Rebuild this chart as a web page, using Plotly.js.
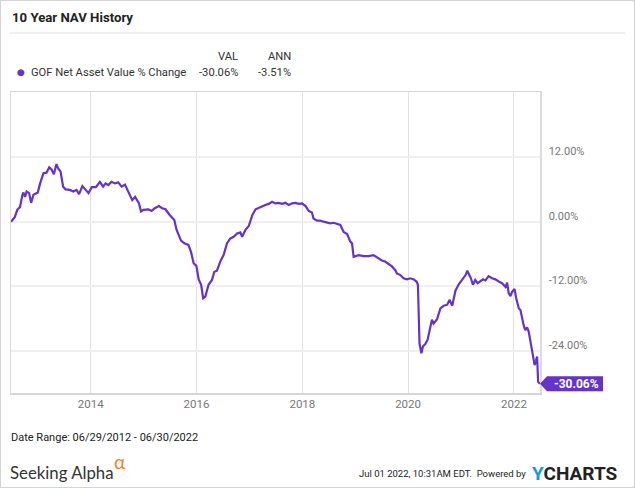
<!DOCTYPE html>
<html><head><meta charset="utf-8">
<script src="https://cdn.plot.ly/plotly-3.0.1.min.js"></script>
<style>
html,body{margin:0;padding:0;background:#fff;}
#chart{width:635px;height:488px;}
#frame{position:absolute;left:0;top:0;width:635px;height:488px;box-sizing:border-box;border:1px solid #d4d4d4;pointer-events:none;}
</style>
</head><body>
<div id="chart"></div>
<div id="frame"></div>
<script>
// ---- data ----
const dates = [
'2012-06-29','2012-07-26','2012-08-11','2012-08-30','2012-09-16','2012-09-23','2012-10-04','2012-10-15','2012-11-01','2012-11-15',
'2012-12-01','2012-12-31','2013-01-16','2013-02-08','2013-03-01','2013-03-20','2013-04-05','2013-04-21','2013-05-09','2013-05-20',
'2013-06-06','2013-06-24','2013-07-11','2013-08-10','2013-09-03','2013-09-25','2013-10-12','2013-11-04','2013-11-27','2013-12-16',
'2014-01-08','2014-02-05','2014-03-05','2014-03-27','2014-04-13','2014-05-02','2014-05-24','2014-06-17','2014-07-09','2014-08-02',
'2014-08-25','2014-09-17','2014-10-14','2014-11-03','2014-11-30','2014-12-14','2014-12-30','2015-02-03','2015-02-25','2015-03-19',
'2015-04-16','2015-05-09','2015-06-01','2015-07-01','2015-08-01','2015-08-16','2015-09-16','2015-10-09','2015-11-06','2015-11-24',
'2015-12-12','2015-12-31','2016-01-16','2016-02-02','2016-02-16','2016-03-02','2016-03-24','2016-04-17','2016-05-03','2016-05-21',
'2016-06-13','2016-07-06','2016-07-30','2016-08-22','2016-09-14','2016-10-07','2016-10-30','2016-11-11','2016-12-04','2016-12-27',
'2017-01-20','2017-02-12','2017-03-05','2017-03-28','2017-04-20','2017-05-13','2017-06-06','2017-06-28','2017-07-21','2017-08-14',
'2017-09-06','2017-09-29','2017-10-22','2017-11-14','2017-12-07','2017-12-30','2018-01-23','2018-02-14','2018-03-08','2018-03-19',
'2018-04-12','2018-05-04','2018-05-27','2018-06-20','2018-07-12','2018-08-05','2018-08-28','2018-09-20','2018-10-13','2018-11-06',
'2018-11-28','2018-12-10','2018-12-21','2019-01-25','2019-02-28','2019-04-03','2019-05-07','2019-06-11','2019-07-04','2019-07-26',
'2019-08-19','2019-09-12','2019-10-05','2019-10-16','2019-11-09','2019-12-01','2019-12-24','2020-01-17','2020-02-09','2020-02-28',
'2020-03-09','2020-03-20','2020-04-02','2020-04-13','2020-04-29','2020-05-15','2020-06-03','2020-06-14','2020-06-25','2020-07-19',
'2020-08-11','2020-09-03','2020-09-27','2020-10-14','2020-11-01','2020-11-23','2020-12-16','2021-01-09','2021-02-01','2021-02-13',
'2021-02-24','2021-03-10','2021-03-24','2021-04-09','2021-04-25','2021-05-13','2021-06-02','2021-06-18','2021-07-10','2021-08-03',
'2021-08-26','2021-09-18','2021-10-11','2021-11-04','2021-11-15','2021-11-26','2021-12-08','2021-12-19','2022-01-05','2022-01-19',
'2022-02-04','2022-02-15','2022-02-26','2022-03-09','2022-03-20','2022-04-02','2022-04-13','2022-04-25','2022-05-06','2022-05-17',
'2022-05-24','2022-06-03','2022-06-10','2022-06-17','2022-06-24','2022-06-30'
];
const navChange = [
0.0,0.9,2.2,2.7,5.0,5.4,4.6,5.6,5.3,3.5,
5.0,5.4,7.1,9.0,9.1,10.1,9.7,8.8,10.7,9.9,
9.3,6.5,6.0,5.9,5.6,5.9,5.1,6.6,5.9,5.3,
6.4,6.4,7.4,6.5,7.1,6.8,7.4,7.1,7.3,6.5,
6.9,5.6,4.0,4.6,3.4,1.9,2.2,2.3,2.0,2.5,
2.9,2.5,2.3,1.2,0.3,-1.5,-3.5,-4.0,-4.3,-5.6,
-7.7,-8.2,-10.7,-11.7,-14.2,-13.9,-11.7,-10.8,-9.3,-9.1,
-7.4,-6.2,-4.0,-3.1,-2.8,-2.2,-2.0,-2.8,-1.5,-0.8,
1.2,2.3,2.5,2.8,3.1,3.3,3.7,3.4,3.5,3.3,
3.5,3.1,3.4,3.5,3.3,3.4,2.9,2.0,1.7,0.6,
0.2,0.2,0.0,-0.2,-0.3,-0.2,-0.4,-0.6,-1.9,-2.3,
-3.7,-4.0,-6.5,-6.2,-6.4,-6.4,-6.2,-6.8,-7.2,-7.4,
-7.8,-8.3,-9.0,-9.6,-9.9,-10.5,-10.7,-10.5,-10.7,-11.1,
-11.7,-22.6,-24.4,-23.1,-22.7,-21.9,-19.5,-18.2,-18.9,-18.1,
-16.1,-15.6,-15.4,-14.5,-15.6,-12.8,-11.6,-10.7,-9.9,-9.1,
-9.7,-10.5,-11.7,-10.8,-11.4,-11.1,-10.7,-10.9,-10.1,-10.5,
-10.7,-11.1,-11.4,-12.1,-11.3,-13.3,-13.8,-13.0,-12.5,-14.5,
-16.1,-16.4,-18.2,-19.2,-20.1,-19.6,-20.4,-22.3,-23.8,-25.7,
-26.6,-25.7,-25.0,-29.7,-30.0,-30.06
];
const seriesName = 'GOF Net Asset Value % Change';
const valHeader = 'VAL', annHeader = 'ANN';
const valText = '-30.06%', annText = '-3.51%';
const yTickVals = [12, 0, -12, -24];
const yTickText = ['12.00%', '0.00%', '-12.00%', '-24.00%'];
const xTickVals = ['2014-01-01', '2016-01-01', '2018-01-01', '2020-01-01', '2022-01-01'];
const xTickText = ['2014', '2016', '2018', '2020', '2022'];
const chartTitle = '10 Year NAV History';
const dateRangeText = 'Date Range: 06/29/2012 - 06/30/2022';
const stampText = 'Jul 01 2022, 10:31AM EDT.  Powered by';

// ---- styling ----
const PURPLE = '#6434c9';
const FONT = 'Roboto, "Liberation Sans", sans-serif';
const lastVal = navChange[navChange.length - 1];
const lastLabel = lastVal.toFixed(2) + '%';

const trace = {
  type: 'scatter', mode: 'lines', x: dates, y: navChange, name: seriesName,
  line: { color: PURPLE, width: 2.2 }, hoverinfo: 'x+y', showlegend: false
};

const LEG = 11.2;
const layout = {
  width: 635, height: 488,
  margin: { l: 11, r: 95, t: 92, b: 95 },
  paper_bgcolor: '#fff', plot_bgcolor: '#fff',
  font: { family: FONT, color: '#333' },
  showlegend: false,
  xaxis: {
    type: 'date', range: ['2012-06-29', '2022-06-30'],
    tickmode: 'array', tickvals: xTickVals, ticktext: xTickText,
    showgrid: true, gridcolor: '#e2e2e2', gridwidth: 1,
    showline: true, linecolor: '#d6d6d6', linewidth: 1.5, mirror: true,
    ticks: '', tickfont: { family: FONT, size: 11.5, color: '#777' },
    zeroline: false, fixedrange: true
  },
  yaxis: {
    side: 'right', range: [-31.78, 24.06],
    tickmode: 'array', tickvals: yTickVals, ticktext: yTickText,
    showgrid: true, gridcolor: '#efefef', gridwidth: 2,
    showline: true, linecolor: '#dcdcdc', linewidth: 1.5, mirror: true,
    ticks: '', tickfont: { family: FONT, size: 11, color: '#777' },
    ticklabelstandoff: 5, ticklabelshift: -6,
    zeroline: false, fixedrange: true
  },
  shapes: [
    { type: 'line', xref: 'paper', yref: 'paper', x0: -0.002, x1: 1.161, y0: 1.196, y1: 1.196,
      line: { color: '#e0e0e0', width: 1 } },
    { type: 'path', xref: 'paper', yref: 'y', xsizemode: 'pixel', ysizemode: 'pixel',
      xanchor: 1, yanchor: lastVal, path: 'M 0 0 L 7 7.5 L 63 7.5 L 63 -7.5 L 7 -7.5 Z',
      fillcolor: PURPLE, line: { width: 0 }, layer: 'above' }
  ],
  annotations: [
    { text: '<b>' + chartTitle + '</b>', xref: 'paper', yref: 'paper', x: -0.002, y: 1.249,
      xanchor: 'left', yanchor: 'middle', showarrow: false, font: { family: FONT, size: 13.2, color: '#222' } },
    { text: '●', xref: 'paper', yref: 'paper', x: 0.0183, y: 1.0655, xanchor: 'center', yanchor: 'middle',
      showarrow: false, font: { family: 'DejaVu Sans', size: 9, color: PURPLE } },
    { text: seriesName, xref: 'paper', yref: 'paper', x: 0.034, y: 1.0655, xanchor: 'left', yanchor: 'middle',
      showarrow: false, font: { family: FONT, size: LEG, color: '#333' } },
    { text: valHeader, xref: 'paper', yref: 'paper', x: 0.4329, y: 1.1163, xanchor: 'right', yanchor: 'middle',
      showarrow: false, font: { family: FONT, size: LEG, color: '#333' } },
    { text: annHeader, xref: 'paper', yref: 'paper', x: 0.5331, y: 1.1163, xanchor: 'right', yanchor: 'middle',
      showarrow: false, font: { family: FONT, size: LEG, color: '#333' } },
    { text: valText, xref: 'paper', yref: 'paper', x: 0.4329, y: 1.0655, xanchor: 'right', yanchor: 'middle',
      showarrow: false, font: { family: FONT, size: LEG, color: '#333' } },
    { text: annText, xref: 'paper', yref: 'paper', x: 0.5331, y: 1.0655, xanchor: 'right', yanchor: 'middle',
      showarrow: false, font: { family: FONT, size: LEG, color: '#333' } },
    { text: '<b>' + lastLabel + '</b>', xref: 'paper', yref: 'y', x: 1, y: lastVal, xanchor: 'center', yanchor: 'middle',
      xshift: 36, showarrow: false, font: { family: FONT, size: 12, color: '#fff' } },
    { text: dateRangeText, xref: 'paper', yref: 'paper', x: -0.004, y: -0.1495, xanchor: 'left', yanchor: 'middle',
      showarrow: false, font: { family: FONT, size: 11, color: '#222' } },
    { text: 'Seeking Alpha', xref: 'paper', yref: 'paper', x: -0.006, y: -0.2625, xanchor: 'left', yanchor: 'middle',
      showarrow: false, font: { family: 'Lato, "Open Sans", sans-serif', size: 16.8, color: '#333' } },
    { text: 'α', xref: 'paper', yref: 'paper', x: 0.191, y: -0.226, xanchor: 'left', yanchor: 'middle',
      showarrow: false, font: { family: 'Lato, sans-serif', size: 19, color: '#f5821f' } },
    { text: stampText, xref: 'paper', yref: 'paper', x: 0.977, y: -0.269, xanchor: 'right', yanchor: 'middle',
      showarrow: false, font: { family: FONT, size: 9.5, color: '#222' } },
    { text: '<span style="color:#1a9ad6">Y</span>CHARTS', xref: 'paper', yref: 'paper', x: 0.982, y: -0.269,
      xanchor: 'left', yanchor: 'middle', showarrow: false,
      font: { family: FONT, size: 19, color: '#222', weight: 'bold' } }
  ]
};

Plotly.newPlot('chart', [trace], layout, { displayModeBar: false, staticPlot: true });
</script>
</body></html>
